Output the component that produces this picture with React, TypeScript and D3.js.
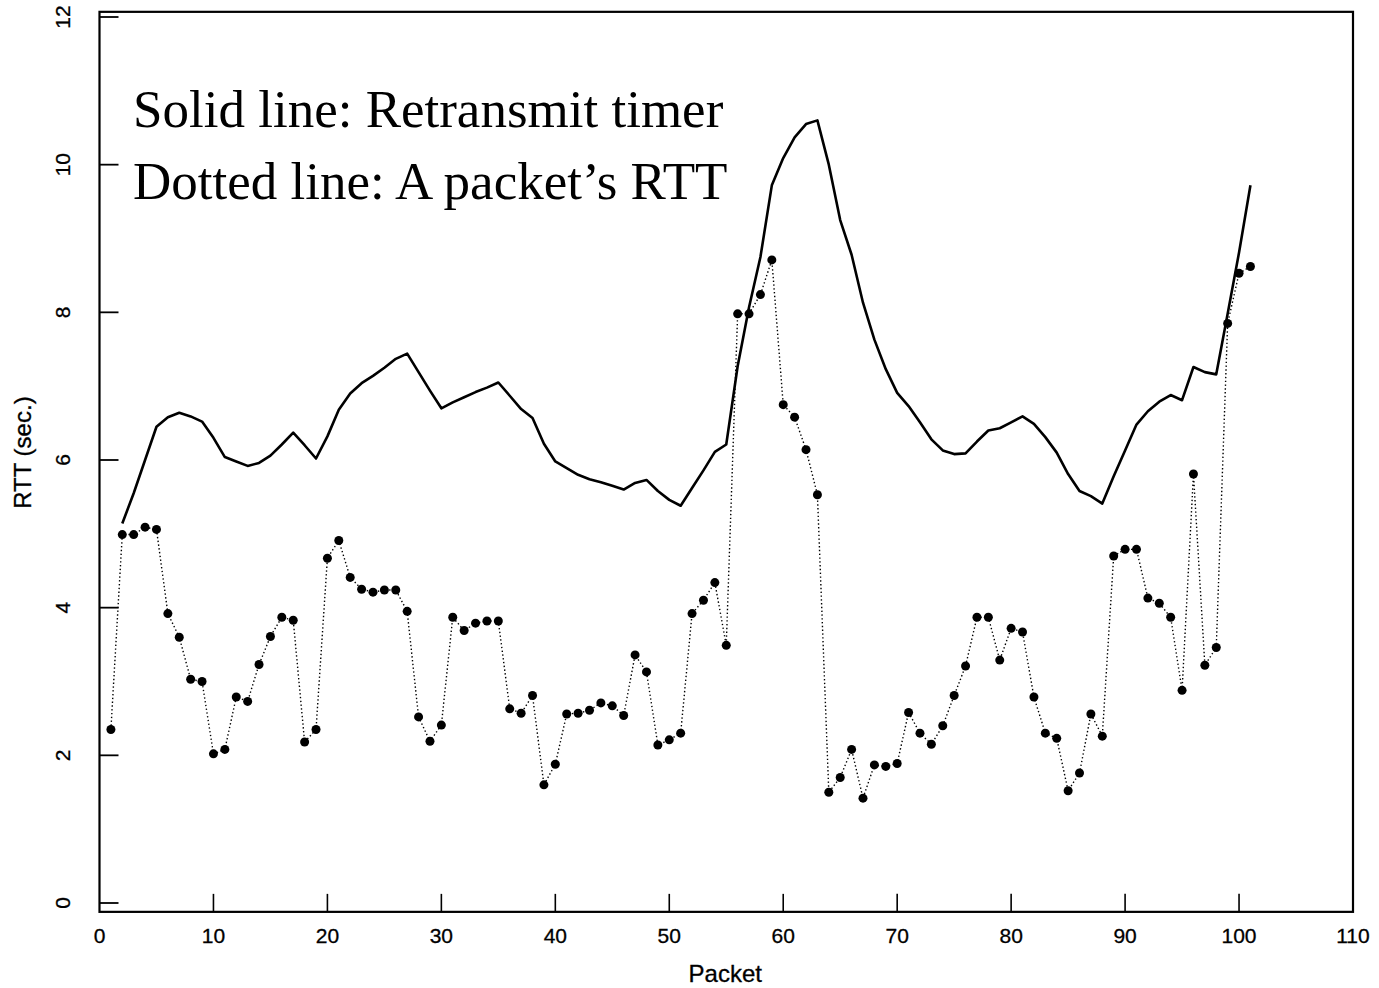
import React from "react";
import * as d3 from "d3";

// Packet numbers and measured RTT (dotted line with points)
const rttPackets: number[] = d3.range(1, 102);
const rttValues: number[] = [
  2.35, 4.99, 4.99, 5.09, 5.06, 3.92, 3.6, 3.03, 3.0, 2.02,
  2.08, 2.79, 2.73, 3.23, 3.61, 3.87, 3.83, 2.18, 2.35, 4.67,
  4.91, 4.41, 4.25, 4.21, 4.24, 4.24, 3.95, 2.52, 2.19, 2.41,
  3.87, 3.69, 3.79, 3.82, 3.82, 2.63, 2.57, 2.81, 1.6, 1.88,
  2.56, 2.57, 2.61, 2.71, 2.67, 2.54, 3.36, 3.13, 2.14, 2.21,
  2.3, 3.92, 4.1, 4.34, 3.49, 7.98, 7.98, 8.24, 8.71, 6.75,
  6.58, 6.14, 5.53, 1.5, 1.7, 2.08, 1.42, 1.87, 1.85, 1.89,
  2.58, 2.3, 2.15, 2.4, 2.81, 3.21, 3.87, 3.87, 3.29, 3.72,
  3.67, 2.79, 2.3, 2.23, 1.52, 1.76, 2.56, 2.26, 4.7, 4.79,
  4.79, 4.13, 4.06, 3.87, 2.88, 5.81, 3.22, 3.46, 7.85, 8.53, 8.62,
];

// Retransmit timer (solid line), packets 2..101
const timerPackets: number[] = d3.range(2, 102);
const timerValues: number[] = [
  5.14, 5.55, 6.0, 6.45, 6.58, 6.64, 6.59, 6.52, 6.3,
  6.04, 5.98, 5.92, 5.96, 6.06, 6.21, 6.37, 6.2, 6.02, 6.32,
  6.68, 6.9, 7.04, 7.14, 7.25, 7.37, 7.44, 7.19, 6.94, 6.7,
  6.78, 6.85, 6.92, 6.98, 7.05, 6.87, 6.69, 6.57, 6.22, 5.98,
  5.89, 5.8, 5.74, 5.7, 5.65, 5.6, 5.69, 5.73, 5.58, 5.46,
  5.38, 5.62, 5.86, 6.11, 6.21, 7.27, 8.07, 8.75, 9.72, 10.09,
  10.37, 10.55, 10.6, 10.0, 9.25, 8.78, 8.13, 7.63, 7.23, 6.91,
  6.73, 6.51, 6.28, 6.13, 6.08, 6.09, 6.25, 6.4, 6.43, 6.51,
  6.59, 6.49, 6.31, 6.1, 5.81, 5.58, 5.51, 5.41, 5.78, 6.13,
  6.48, 6.66, 6.79, 6.88, 6.81, 7.26, 7.19, 7.16, 7.98, 8.81, 9.72,
];

const xTicks: number[] = [0, 10, 20, 30, 40, 50, 60, 70, 80, 90, 100, 110];
const yTicks: number[] = [0, 2, 4, 6, 8, 10, 12];
const xLabel = "Packet";
const yLabel = "RTT (sec.)";
const noteLines: string[] = ["Solid line: Retransmit timer", "Dotted line: A packet\u2019s RTT"];

export default function App() {
  const W = 1379;
  const H = 988;
  const x = d3.scaleLinear().domain([0, 110]).range([99.5, 1353]);
  const y = d3.scaleLinear().domain([0, 12]).range([903, 17]);

  const boxTop = y(12.07);
  const boxBottom = y(-0.12);
  const boxLeft = x(0);
  const boxRight = x(110);

  const rttData = rttPackets.map((p, i) => [p, rttValues[i]] as [number, number]);
  const timerData = timerPackets.map((p, i) => [p, timerValues[i]] as [number, number]);

  const line = d3
    .line<[number, number]>()
    .x((d) => x(d[0]))
    .y((d) => y(d[1]));

  const axisFont = "'Liberation Sans', Arial, Helvetica, sans-serif";

  return (
    <svg
      width={W}
      height={H}
      style={{ position: "absolute", left: 0, top: 0, background: "#fff" }}
    >
      <rect x={0} y={0} width={W} height={H} fill="#fff" />
      {/* frame */}
      <rect
        x={boxLeft}
        y={boxTop}
        width={boxRight - boxLeft}
        height={boxBottom - boxTop}
        fill="none"
        stroke="#000"
        strokeWidth={2.2}
      />
      {/* y ticks (inward) */}
      {yTicks.map((t) => (
        <g key={"yt" + t}>
          <line x1={boxLeft} x2={boxLeft + 19} y1={y(t)} y2={y(t)} stroke="#000" strokeWidth={1.8} />
          <text
            transform={`translate(${70},${y(t)}) rotate(-90)`}
            textAnchor="middle"
            fontFamily={axisFont}
            fontSize={21}
            fill="#000"
            stroke="#000"
            strokeWidth={0.3}
          >
            {t}
          </text>
        </g>
      ))}
      {/* x ticks (inward) */}
      {xTicks.map((t) => (
        <g key={"xt" + t}>
          {t > 0 && t < 110 && (
            <line x1={x(t)} x2={x(t)} y1={boxBottom} y2={boxBottom - 18} stroke="#000" strokeWidth={1.6} />
          )}
          <text
            x={x(t)}
            y={boxBottom + 31}
            textAnchor="middle"
            fontFamily={axisFont}
            fontSize={21}
            fill="#000"
            stroke="#000"
            strokeWidth={0.3}
          >
            {t}
          </text>
        </g>
      ))}
      {/* axis titles */}
      <text
        x={(boxLeft + boxRight) / 2 - 1}
        y={982}
        textAnchor="middle"
        fontFamily={axisFont}
        fontSize={24}
        fill="#000"
        stroke="#000"
        strokeWidth={0.3}
      >
        {xLabel}
      </text>
      <text
        transform={`translate(${31},${y(6.1)}) rotate(-90)`}
        textAnchor="middle"
        fontFamily={axisFont}
        fontSize={24}
        fill="#000"
        stroke="#000"
        strokeWidth={0.3}
      >
        {yLabel}
      </text>

      {/* RTT dotted line */}
      <path
        d={line(rttData) || ""}
        fill="none"
        stroke="#000"
        strokeWidth={1.4}
        strokeDasharray="1.4 2.4"
      />
      {/* retransmit timer solid line */}
      <path d={line(timerData) || ""} fill="none" stroke="#000" strokeWidth={2.6} strokeLinejoin="round" />
      {/* RTT points */}
      {rttData.map((d, i) => (
        <circle key={"p" + i} cx={x(d[0])} cy={y(d[1])} r={4.5} fill="#000" />
      ))}

      {/* annotation */}
      {noteLines.map((s, i) => (
        <text
          key={"n" + i}
          x={133}
          y={127 + i * 72}
          fontFamily="'Liberation Serif', 'Times New Roman', serif"
          fontSize={53}
          fill="#000"
        >
          {s}
        </text>
      ))}
    </svg>
  );
}
